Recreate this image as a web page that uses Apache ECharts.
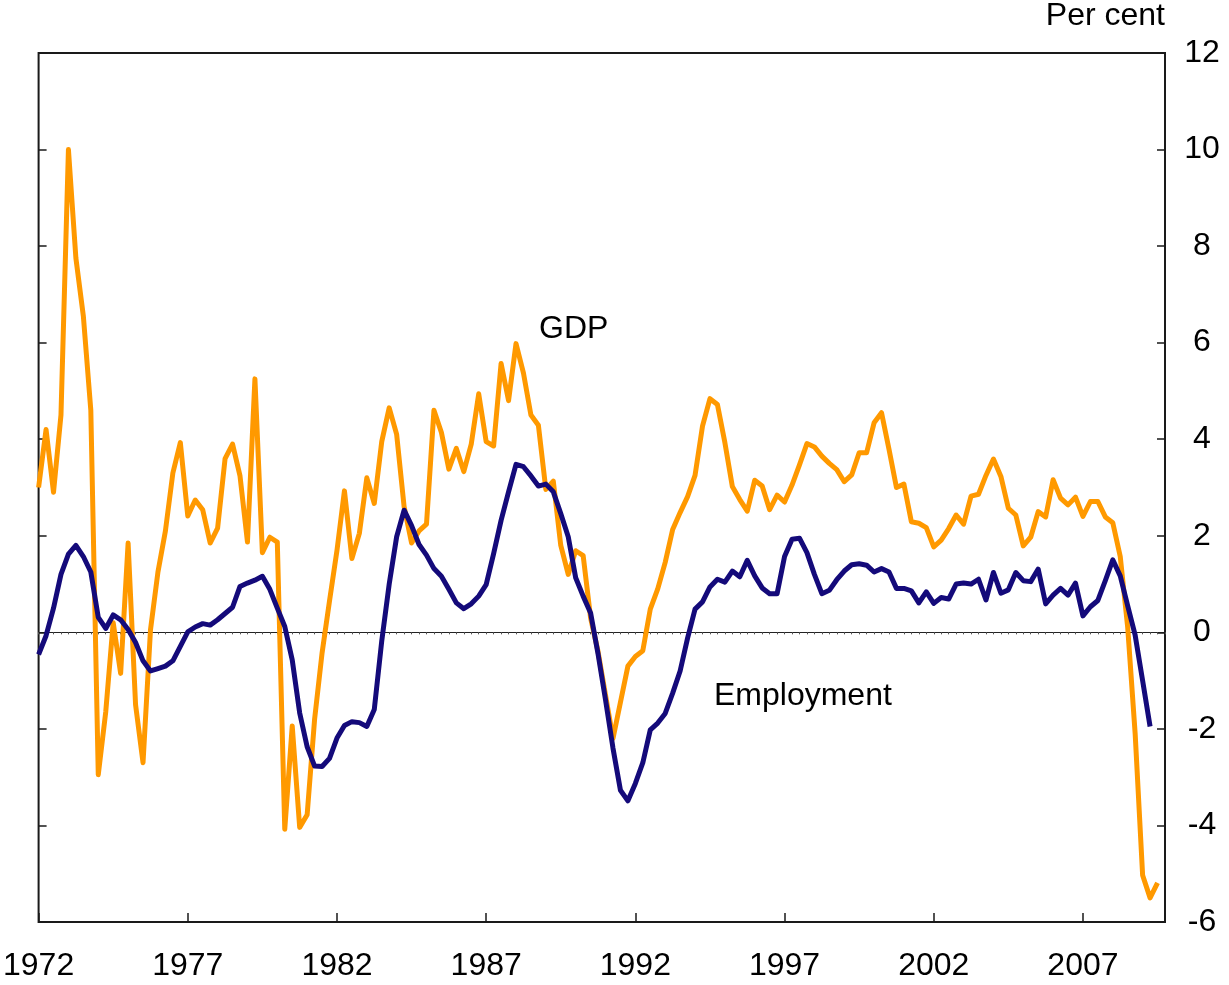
<!DOCTYPE html>
<html>
<head>
<meta charset="utf-8">
<script src="https://cdn.jsdelivr.net/npm/echarts@6/dist/echarts.min.js"></script>
<style>
html,body{margin:0;padding:0;background:#fff;}
#chart{width:1229px;height:985px;}
</style>
</head>
<body>
<div id="chart"></div>
<script>
// Quarterly data, starting 1972 Q1 (index 0)
const startYear = 1972;
const xTickLabels = ['1972','1977','1982','1987','1992','1997','2002','2007'];
const yTickLabels = ['-6','-4','-2','0','2','4','6','8','10','12'];

const gdp = [
  3.0, 4.2, 2.9, 4.5, 10.0, 7.75, 6.55, 4.6,
  -2.95, -1.65, 0.2, -0.85, 1.85, -1.5, -2.7, 0.05,
  1.25, 2.1, 3.3, 3.93, 2.41, 2.74, 2.54, 1.85,
  2.16, 3.6, 3.9, 3.24, 1.87, 5.25, 1.65, 1.97,
  1.87, -4.08, -1.94, -4.04, -3.78, -1.8, -0.43, 0.65,
  1.7, 2.93, 1.53, 2.05, 3.2, 2.67, 3.95, 4.65,
  4.1, 2.6, 1.85, 2.1, 2.24, 4.6, 4.14, 3.38,
  3.81, 3.33, 3.9, 4.94, 3.95, 3.86, 5.57, 4.8,
  5.98, 5.37, 4.5, 4.29, 2.96, 3.13, 1.8, 1.2,
  1.69, 1.59, 0.3, -0.4, -1.3, -2.2, -1.45, -0.7,
  -0.5, -0.38, 0.48, 0.9, 1.45, 2.13, 2.48, 2.81,
  3.25, 4.27, 4.84, 4.72, 3.93, 3.02, 2.75, 2.51,
  3.15, 3.03, 2.54, 2.84, 2.7, 3.05, 3.47, 3.91,
  3.84, 3.65, 3.5, 3.37, 3.12, 3.26, 3.72, 3.72,
  4.34, 4.55, 3.79, 3.0, 3.07, 2.29, 2.26, 2.17,
  1.77, 1.91, 2.15, 2.43, 2.24, 2.82, 2.86, 3.25,
  3.59, 3.23, 2.57, 2.43, 1.79, 1.97, 2.5, 2.39,
  3.16, 2.78, 2.64, 2.8, 2.4, 2.71, 2.71, 2.39,
  2.27, 1.57, 0.1, -2.1, -5.03, -5.5, -5.19
];

const employment = [
  -0.46, -0.07, 0.5, 1.2, 1.62, 1.8, 1.57, 1.25,
  0.31, 0.08, 0.36, 0.26, 0.06, -0.21, -0.59, -0.8,
  -0.75, -0.7, -0.59, -0.29, 0.01, 0.11, 0.18, 0.15,
  0.26, 0.39, 0.52, 0.95, 1.02, 1.08, 1.16, 0.89,
  0.5, 0.12, -0.57, -1.67, -2.37, -2.77, -2.78, -2.61,
  -2.19, -1.93, -1.85, -1.87, -1.95, -1.6, -0.18, 1.0,
  1.98, 2.53, 2.21, 1.82, 1.6, 1.32, 1.16, 0.89,
  0.61, 0.49, 0.59, 0.75, 0.99, 1.63, 2.32, 2.91,
  3.48, 3.43, 3.24, 3.03, 3.07, 2.91, 2.46, 1.98,
  1.13, 0.75, 0.4, -0.45, -1.4, -2.4, -3.27, -3.49,
  -3.13, -2.7, -2.02, -1.88, -1.68, -1.26, -0.8, -0.12,
  0.48, 0.63, 0.94, 1.1, 1.04, 1.27, 1.15, 1.49,
  1.17, 0.92, 0.8, 0.8, 1.57, 1.93, 1.95, 1.65,
  1.2, 0.8, 0.87, 1.09, 1.27, 1.4, 1.42, 1.39,
  1.25, 1.32, 1.25, 0.91, 0.91, 0.86, 0.61, 0.84,
  0.6, 0.72, 0.69, 1.0, 1.02, 1.0, 1.1, 0.67,
  1.24, 0.81, 0.88, 1.24, 1.07, 1.05, 1.31, 0.59,
  0.77, 0.91, 0.77, 1.02, 0.34, 0.53, 0.66, 1.07,
  1.5, 1.17, 0.55, -0.06, -1.0, -1.95
];

const toPairs = arr => arr.map((v, i) => [i, v]);
const FONT = '"Liberation Sans", Arial, sans-serif';
const FS = 32;
const quartersShown = 151; // 1972Q1 .. 2009Q4

const chart = echarts.init(document.getElementById('chart'), null, {renderer: 'canvas'});
chart.setOption({
  animation: false,
  backgroundColor: '#fff',
  textStyle: {fontFamily: FONT},
  title: {
    text: 'Per cent',
    right: 64, top: 0,
    padding: 0,
    textStyle: {fontSize: FS, fontWeight: 'normal', color: '#000', fontFamily: FONT}
  },
  grid: {
    left: 38, right: 64, top: 53, bottom: 63,
    show: true, borderColor: '#1a1a1a', borderWidth: 2, backgroundColor: 'transparent'
  },
  xAxis: [
    {
      type: 'value', min: 0, max: quartersShown, interval: 20,
      position: 'bottom',
      axisLine: {show: false, onZero: false},
      axisTick: {show: true, inside: true, length: 9, lineStyle: {color: '#1a1a1a', width: 1.5}},
      axisLabel: {
        show: true, margin: 28, fontSize: FS, color: '#000', fontFamily: FONT,
        formatter: v => xTickLabels[v / 20] || ''
      },
      splitLine: {show: false}
    },
    {
      type: 'value', min: 0, max: quartersShown, interval: 1,
      position: 'bottom',
      axisLine: {show: true, onZero: true, lineStyle: {color: '#222', width: 1}},
      axisTick: {show: true, inside: false, length: 2, lineStyle: {color: '#555', width: 1}},
      axisLabel: {show: false},
      splitLine: {show: false}
    }
  ],
  yAxis: [
    {
      type: 'value', min: -6, max: 12, interval: 2,
      position: 'right',
      axisLine: {show: false, onZero: false},
      axisTick: {show: true, inside: true, length: 8, lineStyle: {color: '#1a1a1a', width: 1.5}},
      axisLabel: {
        show: true, margin: 37, align: 'center', fontSize: FS, color: '#000', fontFamily: FONT,
        formatter: v => yTickLabels[(v + 6) / 2]
      },
      splitLine: {show: false}
    },
    {
      type: 'value', min: -6, max: 12, interval: 2,
      position: 'left',
      axisLine: {show: false, onZero: false},
      axisTick: {show: true, inside: true, length: 8, lineStyle: {color: '#1a1a1a', width: 1.5}},
      axisLabel: {show: false},
      splitLine: {show: false}
    }
  ],
  series: [
    {
      name: 'GDP', type: 'line', xAxisIndex: 0, yAxisIndex: 0,
      data: toPairs(gdp), showSymbol: false, symbol: 'none',
      lineStyle: {color: '#FF9900', width: 5, join: 'round'},
      z: 2
    },
    {
      name: 'Employment', type: 'line', xAxisIndex: 0, yAxisIndex: 0,
      data: toPairs(employment), showSymbol: false, symbol: 'none',
      lineStyle: {color: '#140A7A', width: 5, join: 'round'},
      z: 3
    }
  ],
  graphic: [
    {type: 'text', x: 539, y: 329, style: {text: 'GDP', fontSize: FS, fontFamily: FONT, fill: '#000', verticalAlign: 'middle', align: 'left'}},
    {type: 'text', x: 714, y: 696, style: {text: 'Employment', fontSize: FS, fontFamily: FONT, fill: '#000', verticalAlign: 'middle', align: 'left'}}
  ]
});
</script>
</body>
</html>
